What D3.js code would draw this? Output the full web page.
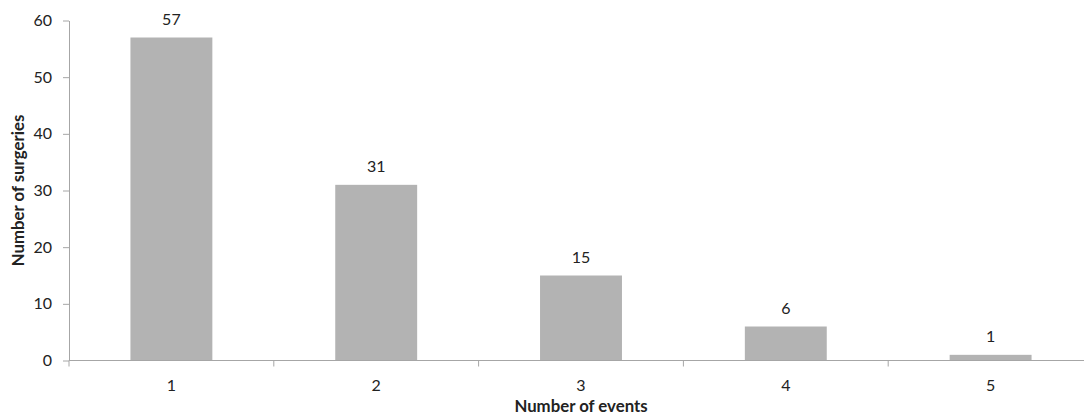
<!DOCTYPE html>
<html>
<head>
<meta charset="utf-8">
<script src="https://cdn.jsdelivr.net/npm/d3@7"></script>
<style>
  html, body { margin: 0; padding: 0; background: #fff; overflow: hidden; }
  text { font-family: Lato, "Open Sans", "Liberation Sans", sans-serif; fill: #222; }
</style>
</head>
<body>
<svg id="chart" width="1084" height="415"></svg>
<script>
// Number of surgeries by number of events
const categories = ["1", "2", "3", "4", "5"];
const surgeries = [57, 31, 15, 6, 1];
const yTicks = [0, 10, 20, 30, 40, 50, 60];

const svg = d3.select("#chart");
const plotLeft = 69, plotRight = 1093, plotTop = 20.5, plotBottom = 360.5;
const labelSize = 16, titleSize = 16.8;

const x = d3.scaleBand().domain(categories).range([plotLeft, plotRight]).paddingInner(0.6).paddingOuter(0.3);
const y = d3.scaleLinear().domain([0, 60]).range([plotBottom, plotTop]);

const axisColor = "#a6a6a6";

// Bars
svg.append("g").selectAll("rect")
  .data(categories)
  .join("rect")
  .attr("x", d => x(d))
  .attr("y", (d, i) => y(surgeries[i]))
  .attr("width", x.bandwidth())
  .attr("height", (d, i) => y(0) - y(surgeries[i]))
  .attr("fill", "#b3b3b3");

// Value labels
svg.append("g").selectAll("text")
  .data(categories)
  .join("text")
  .attr("x", d => x(d) + x.bandwidth() / 2)
  .attr("y", (d, i) => y(surgeries[i]) - 13)
  .attr("text-anchor", "middle")
  .attr("font-size", labelSize)
  .text((d, i) => surgeries[i]);

// Y axis
const yAxis = svg.append("g")
  .attr("transform", `translate(${plotLeft},0)`)
  .call(d3.axisLeft(y).tickValues(yTicks).tickSize(6).tickPadding(11).tickSizeOuter(0));
yAxis.select(".domain").attr("stroke", axisColor);
yAxis.selectAll(".tick line").attr("stroke", axisColor);
yAxis.selectAll(".tick text").attr("font-size", labelSize).attr("fill", "#222")
  .style("font-family", "Lato, 'Open Sans', sans-serif");

// X axis: ticks on category boundaries
const step = x.step();
const boundaries = d3.range(categories.length + 1).map(i => plotLeft + i * step);
const xAxis = svg.append("g");
xAxis.append("line")
  .attr("x1", plotLeft).attr("x2", plotRight)
  .attr("y1", plotBottom).attr("y2", plotBottom)
  .attr("stroke", axisColor);
xAxis.selectAll("line.tk")
  .data(boundaries)
  .join("line")
  .attr("class", "tk")
  .attr("x1", d => d).attr("x2", d => d)
  .attr("y1", plotBottom).attr("y2", plotBottom + 6)
  .attr("stroke", axisColor);
xAxis.selectAll("text")
  .data(categories)
  .join("text")
  .attr("x", d => x(d) + x.bandwidth() / 2)
  .attr("y", plotBottom + 30)
  .attr("text-anchor", "middle")
  .attr("font-size", labelSize)
  .text(d => d);

// Axis titles
svg.append("text")
  .attr("x", x("3") + x.bandwidth() / 2)
  .attr("y", 412)
  .attr("text-anchor", "middle")
  .attr("font-size", titleSize)
  .attr("font-weight", "bold")
  .text("Number of events");

svg.append("text")
  .attr("transform", `translate(24,${(plotTop + plotBottom) / 2}) rotate(-90)`)
  .attr("text-anchor", "middle")
  .attr("font-size", titleSize)
  .attr("font-weight", "bold")
  .text("Number of surgeries");
</script>
</body>
</html>
